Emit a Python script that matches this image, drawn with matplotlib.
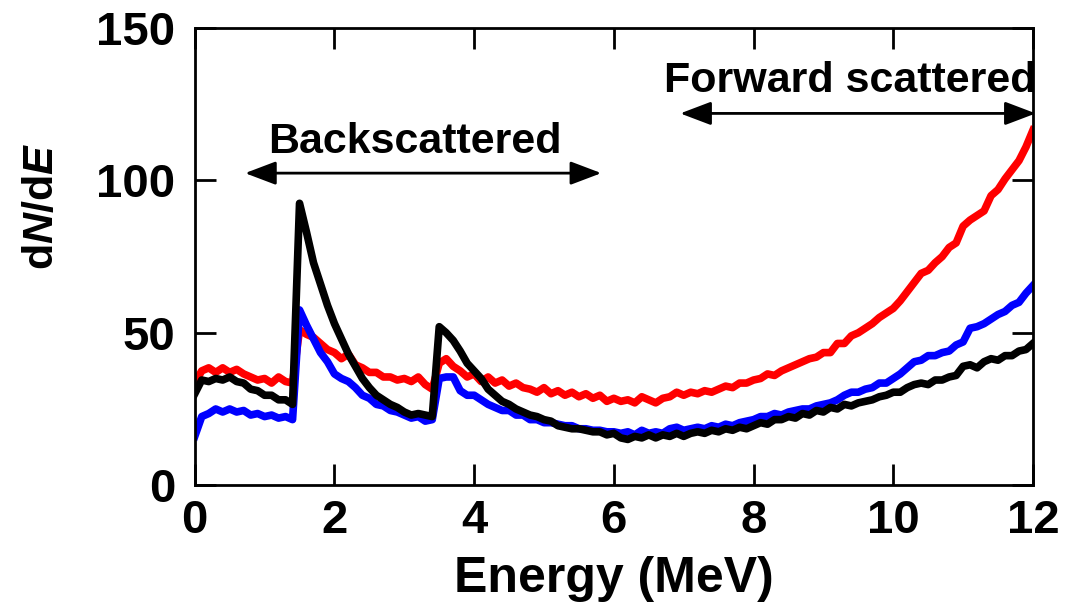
import numpy as np
import matplotlib
matplotlib.use('Agg')
import matplotlib.pyplot as plt

plt.rcParams['font.family'] = ['Liberation Sans', 'DejaVu Sans']
plt.rcParams['font.weight'] = 'bold'
plt.rcParams['mathtext.fontset'] = 'custom'
plt.rcParams['mathtext.bfit'] = 'Liberation Sans:italic:bold'
plt.rcParams['mathtext.rm'] = 'Liberation Sans:bold'

# energy grid (MeV), 0.1 MeV bins
energy = np.round(np.arange(0, 121) * 0.1, 1)

# dN/dE spectra
red = [33.5, 37.5, 38.5, 37, 38.5, 37, 38, 36.5, 35.5, 34.5,
       35, 33.5, 35.5, 34, 33.5, 51, 49.5, 48.5, 46.5, 44.5,
       43.5, 41.5, 43, 39.5, 38.5, 37, 37, 35.5, 35.5, 34.5,
       35, 34, 35.5, 33, 31.5, 40, 41.5, 39, 37.5, 35.5,
       36.5, 34, 35.5, 33.5, 34.5, 32.5, 33.5, 32, 31.5, 30.5,
       32, 30, 31, 29.5, 30.5, 29, 30, 28.5, 29.5, 27.5,
       28.5, 27.5, 28, 27, 29, 28, 27, 28.5, 29, 30.5,
       29.5, 30.5, 30, 31, 30.5, 31.5, 32.5, 32, 33.5, 33.5,
       34.5, 35, 36.5, 36, 37.5, 38.5, 39.5, 40.5, 41.5, 42,
       43.5, 43.5, 46.5, 46.5, 49, 50, 51.5, 53, 55, 56.5,
       58, 60.5, 63.5, 66.5, 69.5, 70.5, 73, 75, 78, 79.5,
       85, 87, 88.5, 90, 95, 97, 100.5, 103.5, 106.5, 111,
       116.5]

blue = [16, 22.5, 23.5, 25, 24, 25, 24, 24.5, 23, 23.5,
        22.5, 23, 22, 22.5, 21.5, 57.5, 52.5, 48, 43.5, 40.5,
        36.5, 35, 34, 32, 29.5, 28.5, 26.5, 26, 24.5, 24,
        23, 22, 22.5, 21, 21.5, 35, 35.5, 35.5, 31, 29.5,
        29.5, 28, 26.5, 25.5, 24.5, 24.5, 23, 23, 21.5, 21.5,
        20.5, 20.5, 20, 19.5, 19.5, 18.5, 18.5, 18, 18, 17.5,
        17.5, 17, 17.5, 16.5, 18, 17, 17.5, 17, 18.5, 19,
        18, 18.5, 19, 18.5, 19.5, 19, 20, 19.5, 20.5, 21,
        21.5, 22.5, 22.5, 23.5, 23, 24, 24.5, 25, 25, 26,
        26.5, 27, 28, 29.5, 30.5, 30.5, 31.5, 32, 33.5, 33.5,
        35, 36.5, 38.5, 40.5, 41, 42.5, 42.5, 43.5, 44, 46,
        47, 51.5, 52, 53, 54.5, 56, 57, 59, 60, 63,
        65.5]

black = [30, 34.5, 34, 35, 34.5, 35.5, 34, 33.5, 31.5, 31,
         29.5, 29.5, 28, 28, 26.5, 92.5, 83, 73, 66, 59,
         53, 48, 43, 39, 35, 32, 29.5, 28, 26.5, 25.5,
         24, 23, 23.5, 23, 22.5, 52, 50, 47.5, 44, 40,
         37.5, 35, 31.5, 29.5, 27.5, 26.5, 25, 24, 23, 22.5,
         21.5, 21, 19.5, 19, 18.5, 18.5, 18, 17.5, 17.5, 16.5,
         17, 15.5, 15, 16, 15.5, 16.5, 15.5, 16.5, 16, 17,
         16, 17, 17.5, 17, 18, 17.5, 18.5, 18, 19, 18.5,
         19.5, 20.5, 20, 21.5, 21.5, 22.5, 22, 23.5, 23, 24.5,
         24, 25.5, 25, 26.5, 26, 27, 27.5, 28, 29, 29.5,
         30.5, 30.5, 32, 33, 33.5, 33, 34.5, 34.5, 35.5, 36,
         39, 39.5, 38.5, 40.5, 41.5, 41, 42.5, 42.5, 44, 44.5,
         46.5]

fig = plt.figure(figsize=(10.76, 6.11), dpi=100)
ax = fig.add_axes([0.181, 0.206, 0.779, 0.748])

ax.plot(energy, red, color='#ff0000', lw=5.5, solid_joinstyle='round')
ax.plot(energy, blue, color='#0000ff', lw=5.5, solid_joinstyle='round')
ax.plot(energy, black, color='black', lw=5.5, solid_joinstyle='round')

ax.set_xlim(0, 12)
ax.set_ylim(0, 150)
ax.set_xticks([0, 2, 4, 6, 8, 10, 12])
ax.set_yticks([0, 50, 100, 150])
ax.tick_params(direction='in', length=15, width=2, top=True, right=True,
               labelsize=34)
ax.tick_params(axis='x', pad=10)
ax.tick_params(axis='y', pad=14)
for s in ax.spines.values():
    s.set_linewidth(2)

ax.set_xlabel('Energy (MeV)', fontsize=36, fontweight='bold')
ax.xaxis.set_label_coords(0.5, -0.155)
ax.set_ylabel(r'd$\mathbfit{N}$/d$\mathbfit{E}$', fontsize=31, fontweight='bold')
ax.yaxis.set_label_coords(-0.158, 0.61)

# region markers
arrow_kw = dict(arrowstyle='<|-|>,head_length=0.95,head_width=0.36',
                color='black', lw=2, mutation_scale=20, shrinkA=0, shrinkB=0)
ax.annotate('', xy=(0.72, 102.4), xytext=(5.82, 102.4), arrowprops=arrow_kw)
ax.annotate('', xy=(6.95, 122), xytext=(12.04, 122), arrowprops=arrow_kw,
            annotation_clip=False)
ax.text(3.15, 112.6, 'Backscattered', fontsize=31, fontweight='bold',
        ha='center', va='center')
ax.text(9.39, 132.6, 'Forward scattered', fontsize=31, fontweight='bold',
        ha='center', va='center')

plt.savefig('out.png', dpi=100)
